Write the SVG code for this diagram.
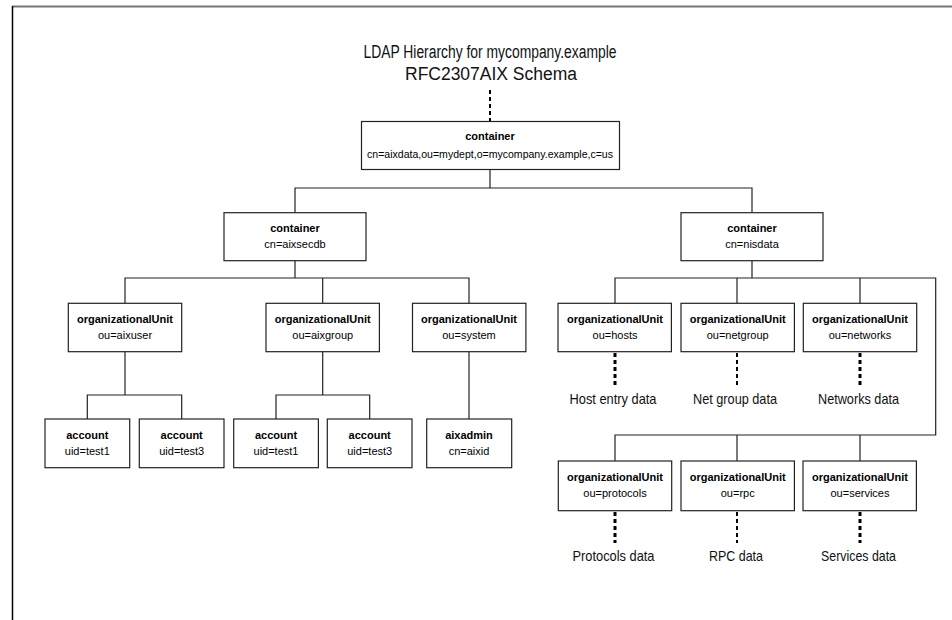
<svg xmlns="http://www.w3.org/2000/svg" width="952" height="620" viewBox="0 0 952 620">
<style>
.box{fill:#fff;stroke:#222;stroke-width:1.2}
.b{font-family:"Liberation Sans",Arial,sans-serif;font-weight:bold;font-size:11px;fill:#000;text-anchor:middle}
.r{font-family:"Liberation Sans",Arial,sans-serif;font-size:11px;fill:#000;text-anchor:middle}
.lbl{font-family:"Liberation Sans",Arial,sans-serif;font-size:15px;fill:#111;text-anchor:middle}
.ttl{font-family:"Liberation Sans",Arial,sans-serif;font-size:18px;fill:#111;text-anchor:middle}
.ln{fill:none;stroke:#222;stroke-width:1.2}
.dt{fill:none;stroke:#000;stroke-width:3;stroke-dasharray:4 3}
.dn{fill:none;stroke:#000;stroke-width:2;stroke-dasharray:4 3}
</style>
<rect width="952" height="620" fill="#fff"/>
<line x1="12" y1="6.5" x2="952" y2="6.5" stroke="#777" stroke-width="2"/>
<line x1="12.5" y1="6" x2="12.5" y2="620" stroke="#000" stroke-width="1.5"/>
<g id="title">
<text class="ttl" x="490" y="58" textLength="253" lengthAdjust="spacingAndGlyphs">LDAP Hierarchy for mycompany.example</text>
<text class="ttl" x="491" y="80" textLength="172" lengthAdjust="spacingAndGlyphs">RFC2307AIX Schema</text>
</g>
<g id="connectors">
<line class="dn" x1="490" y1="90" x2="490" y2="121"/>
<path class="ln" d="M490 169V188M295 212.7V188H752V212.7"/>
<path class="ln" d="M295 260.7V278M125 303.3V278H469V303.3M322.7 278V303.3"/>
<path class="ln" d="M752 260.7V278M615 303.3V278H935.7V435H615V461M737 278V303.3M860 278V303.3M737 435V461M860 435V461"/>
<path class="ln" d="M125 351.7V395M87.3 419V395H181.7V419"/>
<path class="ln" d="M322.7 351.7V395M276 419V395H369.7V419"/>
<path class="ln" d="M469 351.7V419"/>
<line class="dt" x1="615" y1="353" x2="615" y2="388"/>
<line class="dn" x1="737" y1="353" x2="737" y2="388"/>
<line class="dt" x1="860" y1="353" x2="860" y2="388"/>
<line class="dt" x1="615" y1="512" x2="615" y2="543"/>
<line class="dn" x1="737" y1="512" x2="737" y2="543"/>
<line class="dt" x1="860" y1="512" x2="860" y2="543"/>
</g>
<g id="root"><rect class="box" x="361.5" y="121.5" width="258" height="48"/><text class="b" x="490" y="140">container</text><text class="r" x="490" y="158" textLength="246" lengthAdjust="spacingAndGlyphs">cn=aixdata,ou=mydept,o=mycompany.example,c=us</text></g>
<g id="aixsecdb"><rect class="box" x="224" y="212.7" width="142" height="48"/><text class="b" x="295" y="232">container</text><text class="r" x="295" y="248">cn=aixsecdb</text></g>
<g id="nisdata"><rect class="box" x="681" y="212.7" width="142" height="48"/><text class="b" x="752" y="232">container</text><text class="r" x="752" y="248">cn=nisdata</text></g>
<g id="aixuser"><rect class="box" x="68.3" y="303.3" width="113.4" height="48.4"/><text class="b" x="125" y="323.3">organizationalUnit</text><text class="r" x="125" y="339">ou=aixuser</text></g>
<g id="aixgroup"><rect class="box" x="266" y="303.3" width="113.4" height="48.4"/><text class="b" x="322.7" y="323.3">organizationalUnit</text><text class="r" x="322.7" y="339">ou=aixgroup</text></g>
<g id="system"><rect class="box" x="412.5" y="303.3" width="113.4" height="48.4"/><text class="b" x="469" y="323.3">organizationalUnit</text><text class="r" x="469" y="339">ou=system</text></g>
<g id="acct1"><rect class="box" x="45" y="419" width="84.7" height="48.7"/><text class="b" x="87.3" y="439">account</text><text class="r" x="87.3" y="455">uid=test1</text></g>
<g id="acct2"><rect class="box" x="139.3" y="419" width="84.7" height="48.7"/><text class="b" x="181.7" y="439">account</text><text class="r" x="181.7" y="455">uid=test3</text></g>
<g id="acct3"><rect class="box" x="233.7" y="419" width="84.7" height="48.7"/><text class="b" x="276" y="439">account</text><text class="r" x="276" y="455">uid=test1</text></g>
<g id="acct4"><rect class="box" x="327.3" y="419" width="84.7" height="48.7"/><text class="b" x="369.7" y="439">account</text><text class="r" x="369.7" y="455">uid=test3</text></g>
<g id="aixadmin"><rect class="box" x="426.7" y="419" width="85" height="48.7"/><text class="b" x="469" y="439">aixadmin</text><text class="r" x="469" y="455">cn=aixid</text></g>
<g id="hosts"><rect class="box" x="558" y="303.3" width="113.4" height="48.4"/><text class="b" x="615" y="323.3">organizationalUnit</text><text class="r" x="615" y="339">ou=hosts</text></g>
<g id="netgroup"><rect class="box" x="681" y="303.3" width="113.4" height="48.4"/><text class="b" x="737.7" y="323.3">organizationalUnit</text><text class="r" x="737.7" y="339">ou=netgroup</text></g>
<g id="networks"><rect class="box" x="803.3" y="303.3" width="113.4" height="48.4"/><text class="b" x="860" y="323.3">organizationalUnit</text><text class="r" x="860" y="339">ou=networks</text></g>
<g id="protocols"><rect class="box" x="558.3" y="461" width="113.4" height="49.7"/><text class="b" x="615" y="481">organizationalUnit</text><text class="r" x="615" y="497">ou=protocols</text></g>
<g id="rpc"><rect class="box" x="681" y="461" width="113.4" height="49.7"/><text class="b" x="737.7" y="481">organizationalUnit</text><text class="r" x="737.7" y="497">ou=rpc</text></g>
<g id="services"><rect class="box" x="803" y="461" width="113.4" height="49.7"/><text class="b" x="860" y="481">organizationalUnit</text><text class="r" x="860" y="497">ou=services</text></g>
<g id="labels">
<text class="lbl" x="613" y="404" textLength="87" lengthAdjust="spacingAndGlyphs">Host entry data</text>
<text class="lbl" x="735" y="404" textLength="84" lengthAdjust="spacingAndGlyphs">Net group data</text>
<text class="lbl" x="858.5" y="404" textLength="81" lengthAdjust="spacingAndGlyphs">Networks data</text>
<text class="lbl" x="613.5" y="561" textLength="82" lengthAdjust="spacingAndGlyphs">Protocols data</text>
<text class="lbl" x="736" y="561" textLength="54" lengthAdjust="spacingAndGlyphs">RPC data</text>
<text class="lbl" x="858.5" y="561" textLength="75" lengthAdjust="spacingAndGlyphs">Services data</text>
</g>
</svg>
